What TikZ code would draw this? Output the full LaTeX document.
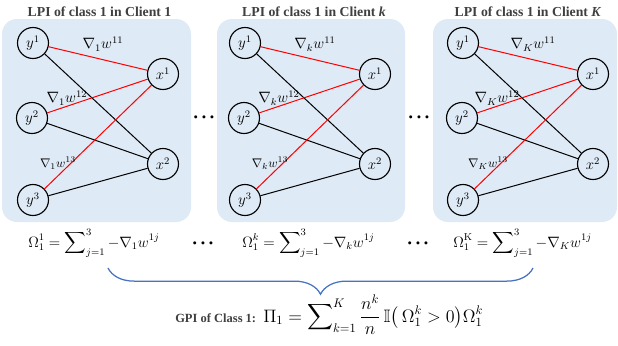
\documentclass[tikz,border=0pt]{standalone}
\usepackage{amsmath,amssymb}
\usepackage[no-math]{fontspec}
\setmainfont{Liberation Serif}
\usetikzlibrary{decorations.pathreplacing}
\definecolor{panelblue}{RGB}{222,234,246}
\definecolor{linkred}{RGB}{255,0,0}
\definecolor{braceblue}{RGB}{68,114,196}
\definecolor{titlegray}{RGB}{64,64,64}

\begin{document}
\begin{tikzpicture}[x=0.8pt, y=-0.8pt,
  unit/.style={circle, draw, line width=0.9pt, minimum size=24.8pt, inner sep=0pt, font=\large},
  redlink/.style={linkred, line width=0.8pt},
  blacklink/.style={black, line width=0.8pt},
  wlabel/.style={font=\large, inner sep=1pt},
  panel/.style={fill=panelblue, rounded corners=12pt},
  title/.style={font=\fontsize{11}{13}\selectfont\bfseries, text=titlegray},
  formula/.style={font=\large, anchor=base west, inner sep=0pt},
  dotrow/.style={font=\normalsize, inner sep=0pt}]
\useasboundingbox (0,0) rectangle (618,345);

% Clients
\foreach \i/\ox/\bl/\br/\c/\cl in {1/0/2/191/1/1, 2/212/217/405/k/\textit{k}, 3/430/433/617/K/\textit{K}} {
  % Panel
  \path[panel] (\bl,19) rectangle (\br,222);
  \node[title] (title-\i) at ({(\bl+\br)/2+3},12) {LPI of class 1 in Client \cl};
  % Units
  \node[unit] (y1-\i) at (\ox+33,43) {$y^1$};
  \node[unit] (y2-\i) at (\ox+32,118) {$y^2$};
  \node[unit] (y3-\i) at (\ox+33,200) {$y^3$};
  \node[unit] (x1-\i) at (\ox+163,74) {$x^1$};
  \node[unit] (x2-\i) at (\ox+163,164) {$x^2$};
  % Links
  \draw[blacklink] (y1-\i) -- (x2-\i);
  \draw[blacklink] (y2-\i) -- (x2-\i);
  \draw[blacklink] (y3-\i) -- (x2-\i);
  \draw[redlink] (y1-\i) -- (x1-\i);
  \draw[redlink] (y2-\i) -- (x1-\i);
  \draw[redlink] (y3-\i) -- (x1-\i);
  % Gradients
  \node[wlabel] (w11-\i) at (\ox+103,44) {$\nabla_{\c} w^{11}$};
  \node[wlabel] (w12-\i) at (\ox+67,98) {$\nabla_{\c} w^{12}$};
  \node[wlabel, font=\normalsize] (w13-\i) at (\ox+58,163) {$\nabla_{\c} w^{13}$};
}

% Dots
\node[dotrow] (dotsA) at (204,119) {\textbullet\kern3pt\textbullet\kern3pt\textbullet};
\node[dotrow] (dotsB) at (419,119) {\textbullet\kern3pt\textbullet\kern3pt\textbullet};
\node[dotrow] (dotsC) at (203,245) {\textbullet\kern3pt\textbullet\kern3pt\textbullet};
\node[dotrow] (dotsD) at (418,245) {\textbullet\kern3pt\textbullet\kern3pt\textbullet};

% LPI values
\node[formula] (omega-1) at (28,247) {$\displaystyle\Omega_1^1 = \sum\nolimits_{j=1}^{3} -\nabla_1 w^{1j}$};
\node[formula] (omega-2) at (242,247) {$\displaystyle\Omega_1^k = \sum\nolimits_{j=1}^{3} -\nabla_k w^{1j}$};
\node[formula] (omega-3) at (453,247) {$\displaystyle\Omega_1^{\mathrm{K}} = \sum\nolimits_{j=1}^{3} -\nabla_K w^{1j}$};

% Brace
\coordinate (braceL) at (108,268);
\coordinate (braceR) at (533,268);
\draw[braceblue, line width=1pt, decorate, decoration={brace, mirror, amplitude=21pt}] (braceL) -- (braceR);

% GPI
\node[title, font=\fontsize{10}{12}\selectfont\bfseries, anchor=base west, inner sep=0pt] (gpi) at (175,322) {GPI of Class 1:};
\node[formula, font=\Large] (pi) at (263,322) {$\displaystyle\Pi_1 = \sum\nolimits_{k=1}^{K} \frac{n^k}{n}\,\mathbb{I}\big(\,\Omega_1^k > 0\big)\Omega_1^k$};
\end{tikzpicture}
\end{document}
